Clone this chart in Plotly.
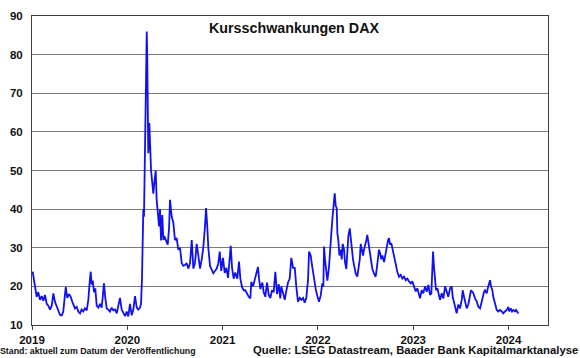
import plotly.graph_objects as go

# Decimal-year positions and index values
t_2019 = [2019.007, 2019.031, 2019.049, 2019.066, 2019.084, 2019.102, 2019.119, 2019.136, 2019.154, 2019.171,
          2019.189, 2019.207, 2019.224, 2019.241, 2019.259, 2019.276, 2019.294, 2019.312, 2019.328, 2019.354,
          2019.370, 2019.388, 2019.406, 2019.423, 2019.451, 2019.469, 2019.486, 2019.504, 2019.521, 2019.538,
          2019.556, 2019.574, 2019.591, 2019.605, 2019.616, 2019.626, 2019.637, 2019.651, 2019.664, 2019.679,
          2019.696, 2019.714, 2019.731, 2019.745, 2019.755, 2019.769, 2019.784, 2019.801, 2019.818, 2019.836,
          2019.853, 2019.871, 2019.889, 2019.906, 2019.923, 2019.941, 2019.958, 2019.976, 2019.994]
v_2019 = [23.8, 20.0, 17.3, 18.5, 16.5, 17.5, 16.3, 17.8, 15.5, 15.0,
          14.0, 15.0, 18.2, 16.0, 14.7, 13.5, 12.6, 12.5, 13.5, 19.8,
          17.0, 18.0, 17.3, 16.0, 14.3, 14.7, 13.5, 13.0, 14.0, 13.5,
          14.3, 13.8, 16.5, 21.0, 23.8, 20.5, 21.5, 18.5, 19.5, 15.0,
          14.5, 15.5, 14.5, 18.0, 20.8, 17.0, 14.3, 14.0, 13.5, 14.5,
          13.8, 14.0, 13.0, 15.0, 17.0, 14.0, 13.0, 12.3, 13.5]

t_2020 = [2020.010, 2020.028, 2020.046, 2020.063, 2020.081, 2020.099, 2020.115, 2020.133, 2020.144, 2020.154,
          2020.162, 2020.168, 2020.175, 2020.183, 2020.186, 2020.193, 2020.198, 2020.204, 2020.209, 2020.214,
          2020.220, 2020.231, 2020.238, 2020.249, 2020.262, 2020.273, 2020.283, 2020.298, 2020.308, 2020.319,
          2020.333, 2020.343, 2020.354, 2020.367, 2020.378, 2020.388, 2020.403, 2020.424, 2020.438, 2020.448,
          2020.466, 2020.483, 2020.500, 2020.518, 2020.535, 2020.553, 2020.571, 2020.588, 2020.605, 2020.623,
          2020.640, 2020.658, 2020.676, 2020.693, 2020.710, 2020.728, 2020.745, 2020.763, 2020.781, 2020.797,
          2020.815, 2020.826, 2020.839, 2020.850, 2020.868, 2020.886, 2020.902, 2020.920, 2020.938, 2020.955,
          2020.970, 2020.986]
v_2020 = [12.2, 15.5, 12.5, 14.0, 17.5, 14.5, 14.0, 14.5, 15.5, 22.0,
          30.0, 40.0, 38.0, 50.0, 55.0, 74.0, 75.0, 86.0, 80.0, 70.0,
          54.5, 62.3, 54.5, 50.0, 46.8, 44.0, 46.8, 50.0, 42.4, 40.0,
          35.5, 40.0, 31.9, 38.5, 32.0, 33.0, 32.0, 30.8, 35.0, 42.4,
          38.0, 36.5, 32.0, 32.5, 29.5, 30.0, 26.0, 25.3, 25.5, 26.0,
          24.6, 26.0, 32.0, 24.6, 26.0, 31.0, 28.0, 24.6, 27.0, 30.0,
          35.5, 40.3, 35.5, 30.0, 25.3, 24.0, 23.4, 24.0, 24.6, 26.0,
          29.0, 24.0]

t_2021 = [2021.004, 2021.022, 2021.039, 2021.057, 2021.067, 2021.085, 2021.099, 2021.116, 2021.133, 2021.154,
          2021.172, 2021.186, 2021.204, 2021.221, 2021.238, 2021.256, 2021.274, 2021.291, 2021.301, 2021.319,
          2021.337, 2021.354, 2021.371, 2021.382, 2021.396, 2021.417, 2021.431, 2021.448, 2021.466, 2021.484,
          2021.501, 2021.518, 2021.536, 2021.553, 2021.571, 2021.589, 2021.605, 2021.616, 2021.634, 2021.652,
          2021.668, 2021.686, 2021.704, 2021.721, 2021.739, 2021.757, 2021.773, 2021.791, 2021.809, 2021.826,
          2021.844, 2021.861, 2021.878, 2021.896, 2021.907, 2021.924, 2021.941, 2021.959, 2021.977, 2021.994]
v_2021 = [27.4, 23.5, 24.8, 22.2, 26.0, 30.5, 24.8, 22.0, 23.6, 22.0,
          26.4, 22.0, 19.8, 19.0, 19.0, 18.0, 17.3, 16.9, 21.2, 20.0,
          22.0, 23.4, 25.0, 22.0, 19.3, 21.0, 18.5, 17.3, 21.0, 17.8,
          17.0, 19.0, 18.5, 23.8, 18.0, 20.6, 16.9, 20.0, 17.8, 16.5,
          18.8, 21.0, 22.0, 27.4, 24.8, 24.8, 20.0, 16.0, 17.0, 16.5,
          17.0, 15.8, 17.0, 21.6, 29.0, 28.0, 25.0, 21.6, 19.3, 17.5]

t_2022 = [2022.011, 2022.029, 2022.046, 2022.057, 2022.064, 2022.074, 2022.088, 2022.099, 2022.116, 2022.127,
          2022.141, 2022.151, 2022.162, 2022.176, 2022.187, 2022.197, 2022.204, 2022.214, 2022.225, 2022.239,
          2022.250, 2022.260, 2022.274, 2022.284, 2022.298, 2022.308, 2022.319, 2022.334, 2022.344, 2022.355,
          2022.368, 2022.379, 2022.397, 2022.413, 2022.424, 2022.439, 2022.449, 2022.460, 2022.473, 2022.484,
          2022.494, 2022.508, 2022.518, 2022.529, 2022.543, 2022.554, 2022.571, 2022.589, 2022.606, 2022.617,
          2022.631, 2022.641, 2022.652, 2022.665, 2022.676, 2022.694, 2022.711, 2022.722, 2022.736, 2022.746,
          2022.757, 2022.770, 2022.785, 2022.798, 2022.816, 2022.833, 2022.851, 2022.869, 2022.886, 2022.903,
          2022.921, 2022.938, 2022.956, 2022.974, 2022.990]
v_2022 = [16.0, 17.6, 20.8, 20.0, 30.3, 27.0, 24.0, 21.5, 25.0, 30.3,
          33.8, 37.2, 40.0, 44.1, 40.8, 40.3, 33.8, 32.0, 28.0, 29.5,
          27.0, 31.0, 29.5, 26.3, 24.5, 29.5, 33.0, 35.0, 32.0, 29.5,
          27.0, 25.5, 23.3, 22.5, 24.5, 27.0, 31.0, 29.5, 28.0, 29.5,
          31.0, 32.0, 33.3, 31.5, 29.5, 27.0, 24.5, 23.3, 22.5, 24.5,
          28.0, 29.5, 28.6, 27.0, 28.0, 26.3, 28.6, 30.3, 32.0, 32.5,
          30.8, 31.2, 29.5, 28.0, 25.5, 23.8, 22.5, 23.0, 22.0, 22.5,
          21.6, 22.0, 21.3, 20.8, 21.3]

t_2023 = [2023.008, 2023.026, 2023.043, 2023.054, 2023.071, 2023.089, 2023.106, 2023.124, 2023.142, 2023.159,
          2023.176, 2023.190, 2023.200, 2023.208, 2023.218, 2023.229, 2023.239, 2023.253, 2023.268, 2023.281,
          2023.299, 2023.316, 2023.334, 2023.352, 2023.368, 2023.386, 2023.404, 2023.414, 2023.428, 2023.446,
          2023.456, 2023.473, 2023.491, 2023.509, 2023.519, 2023.533, 2023.547, 2023.561, 2023.578, 2023.596,
          2023.606, 2023.620, 2023.631, 2023.648, 2023.666, 2023.683, 2023.701, 2023.719, 2023.729, 2023.743,
          2023.753, 2023.771, 2023.782, 2023.795, 2023.806, 2023.816, 2023.830, 2023.840, 2023.858, 2023.876,
          2023.893, 2023.911, 2023.929, 2023.945, 2023.963, 2023.981, 2023.998]
v_2023 = [20.0, 18.7, 19.5, 18.2, 16.9, 19.0, 18.2, 20.0, 18.6, 20.4,
          17.8, 18.2, 24.2, 29.0, 25.0, 21.0, 19.0, 19.5, 17.3, 16.5,
          18.2, 16.9, 20.0, 18.2, 17.3, 19.5, 20.0, 17.3, 15.6, 14.3,
          13.0, 15.3, 14.3, 16.5, 19.0, 17.3, 15.3, 14.3, 15.3, 18.2,
          19.0, 18.6, 18.2, 16.9, 16.1, 14.7, 14.3, 16.1, 17.3, 18.6,
          19.0, 18.2, 19.5, 20.8, 21.6, 20.0, 19.0, 17.3, 15.3, 13.9,
          13.5, 13.9, 13.5, 13.0, 13.5, 13.9, 14.7]

t_2024 = [2024.008, 2024.023, 2024.037, 2024.050, 2024.068, 2024.079, 2024.092, 2024.103]
v_2024 = [13.5, 14.3, 13.5, 13.9, 13.5, 13.9, 13.5, 13.0]

year_ticks = [2019, 2020, 2021, 2022, 2023, 2024]
year_labels = ["2019", "2020", "2021", "2022", "2023", "2024"]
y_ticks = [10, 20, 30, 40, 50, 60, 70, 80, 90]

t_all = t_2019 + t_2020 + t_2021 + t_2022 + t_2023 + t_2024
v_all = v_2019 + v_2020 + v_2021 + v_2022 + v_2023 + v_2024

FONT = "Liberation Sans, Arial, sans-serif"
W, H = 580, 358
ML, MR, MT, MB = 32, 32, 16, 33
pw, ph = W - ML - MR, H - MT - MB


def px(xp):
    return (xp - ML) / pw


def py(yp):
    return (H - MB - yp) / ph


fig = go.Figure()
fig.add_trace(go.Scatter(x=t_all, y=v_all, mode="lines",
                         line=dict(color="#1010F0", width=1.8), showlegend=False))

fig.update_layout(
    width=W, height=H,
    margin=dict(l=ML, r=MR, t=MT, b=MB, autoexpand=False),
    paper_bgcolor="white", plot_bgcolor="white",
    font=dict(family=FONT, color="#111111"),
    xaxis=dict(range=[2019, 2024.414], tickvals=year_ticks, ticktext=year_labels,
               showgrid=False, zeroline=False, showline=True, linecolor="#404040",
               linewidth=1, mirror=True, ticks="outside", ticklen=4, tickcolor="#404040",
               automargin=False,
               tickfont=dict(family=FONT, size=11.5, color="#111111", weight="bold")),
    yaxis=dict(range=[10, 90], tickvals=y_ticks, showgrid=True, gridcolor="#7a7a7a",
               gridwidth=1, zeroline=False, showline=True, linecolor="#404040",
               linewidth=1, mirror=True, ticks="", ticklabelstandoff=6, automargin=False,
               tickfont=dict(family=FONT, size=11.5, color="#111111", weight="bold")),
    annotations=[
        dict(text="<b>Kursschwankungen DAX</b>", x=px(294), y=py(28), xref="paper", yref="paper",
             xanchor="center", yanchor="middle", showarrow=False,
             font=dict(family=FONT, size=14.3, color="#111111")),
        dict(text="<b>Stand: aktuell zum Datum der Veröffentlichung</b>", x=px(-2), y=py(351),
             xref="paper", yref="paper", xanchor="left", yanchor="middle", showarrow=False,
             font=dict(family=FONT, size=8.8, color="#111111")),
        dict(text="<b>Quelle: LSEG Datastream, Baader Bank Kapitalmarktanalyse</b>", x=px(580),
             y=py(350), xref="paper", yref="paper", xanchor="right", yanchor="middle",
             showarrow=False, font=dict(family=FONT, size=11.3, color="#111111")),
    ],
)

fig.write_html("out.html", config={"displayModeBar": False},
               post_script="document.body.style.margin='0';document.body.style.padding='0';")
